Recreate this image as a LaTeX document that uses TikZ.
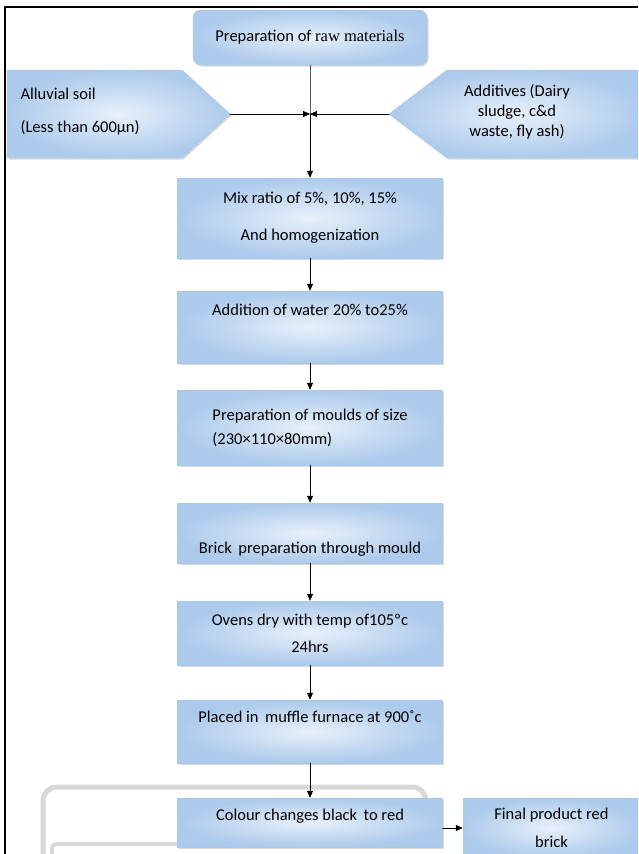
\documentclass[tikz,border=0pt]{standalone}
\usepackage{fontspec}
\setmainfont{Carlito}
\newfontfamily\serifpart{Liberation Serif}
\usetikzlibrary{arrows.meta,shadows}
\definecolor{boxouter}{RGB}{172,202,235}
\definecolor{boxinner}{RGB}{232,240,250}
\definecolor{boxline}{RGB}{170,199,230}
\definecolor{scangray}{RGB}{216,216,216}

\begin{document}
\begin{tikzpicture}[x=1pt, y=-1pt, line cap=round, line join=round,
  every node/.style={font=\fontsize{16.5}{20}\selectfont},
  stepbox/.style={inner sep=0pt, minimum width=265pt, inner color=boxinner, outer color=boxouter, draw=boxline, line width=0.4pt, drop shadow={shadow xshift=1.5pt, shadow yshift=-1.5pt, opacity=0.3}},
  sidebox/.style={inner color=boxinner, outer color=boxouter, draw=boxline, line width=0.4pt, drop shadow={shadow xshift=1.5pt, shadow yshift=-1.5pt, opacity=0.3}},
  arr/.style={-{Triangle[length=7pt,width=6pt]}, line width=0.8pt}]
	\useasboundingbox (0,0) rectangle (638,854);
	\clip (0,0) rectangle (638,854);
	\fill [white] (0,0) rectangle (638,854);
	% faint scan marks behind the last step
	\draw [scangray, line width=5pt, rounded corners=14pt] (426,820) -- (426,787) -- (43,787) -- (43,900);
	\draw [scangray, line width=4pt, rounded corners=4pt] (52,900) -- (52,844) -- (180,844);
	% inputs
	\node [stepbox, minimum width=234pt, minimum height=55pt, rounded corners=8pt] (raw) at (310,37.5) {Preparation of {\serifpart raw materials}};
	\path [sidebox] (7,70) -- (182,70) -- (230,114) -- (182,158) -- (7,158) -- cycle;
	\path [sidebox] (645,70) -- (447,70) -- (389,114) -- (447,158) -- (645,158) -- cycle;
	\node [anchor=west, align=left] (soil) at (17,112) {Alluvial soil\\[13pt](Less than 600µn)};
	\node [align=center] (additive) at (517,112) {Additives (Dairy\\sludge, c\&d\\waste, fly ash)};
	\coordinate (soiltip) at (230,114);
	\coordinate (addtip) at (389,114);
	\coordinate (meet) at (310,114);
	% steps
	\node [stepbox, minimum height=80pt, align=center] (mix) at (310,218) {Mix ratio of 5\%, 10\%, 15\%\\[17pt]And homogenization};
	\node [stepbox, text height=24pt, text depth=48pt] (water) at (310,327) {Addition of water 20\% to25\%};
	\node [stepbox, minimum height=75pt, align=left] (moulds) at (310,427.5) {Preparation of moulds of size\\[4pt](230×110×80mm)};
	\node [stepbox, text height=50pt, text depth=10pt] (brick) at (310,533) {Brick\, preparation through mould};
	\node [stepbox, minimum height=64pt, align=center] (ovens) at (310,633) {Ovens dry with temp of105ºc\\[7pt]24hrs};
	\node [stepbox, text height=22pt, text depth=41pt] (placed) at (310,731.5) {Placed in\, muffle furnace at 900˚c};
	\node [stepbox, text height=22pt, text depth=27pt] (colour) at (310,822.5) {Colour changes black\, to red};
	\node [stepbox, minimum width=177pt, minimum height=60pt, align=center] (final) at (551.5,828) {Final product red\\[8pt]brick};
	% connectors
	\draw [black!65, line width=0.6pt] (raw.south) -- (meet);
	\draw [arr] (meet) -- (mix.north);
	\draw [arr] (soiltip) -- (meet);
	\draw [arr] (addtip) -- (meet);
	\draw [arr] (mix) -- (water);
	\draw [arr] (water) -- (moulds);
	\draw [arr] (moulds) -- (brick);
	\draw [arr] (brick) -- (ovens);
	\draw [arr] (ovens) -- (placed);
	\draw [arr] (placed) -- (colour);
	\draw [arr] (colour.east |- final.west) -- (final.west);
	% frame
	\draw [line width=2pt, line cap=butt] (5,860) -- (5,7) -- (645,7);
\end{tikzpicture}
\end{document}
